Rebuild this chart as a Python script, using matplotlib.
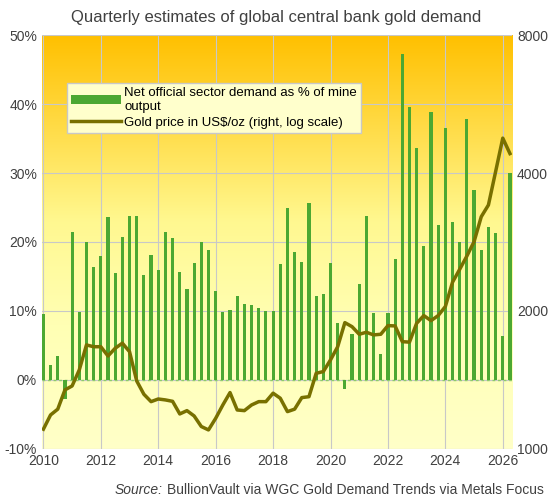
import numpy as np
import matplotlib
matplotlib.use("Agg")
import matplotlib.pyplot as plt
from matplotlib.colors import LinearSegmentedColormap
from matplotlib.ticker import FixedLocator, NullLocator

plt.rcParams["font.family"] = ["Liberation Sans", "DejaVu Sans"]

# quarterly, 2010 Q1 .. 2026 Q2
demand_pct = [9.6, 2.2, 3.4, -2.8, 21.5, 9.8, 20.0, 16.4, 18.0, 23.6, 15.5, 20.7,
              23.7, 23.7, 15.2, 18.1, 16.0, 21.4, 20.6, 15.7, 13.2, 17.0, 20.0, 18.9,
              12.9, 9.8, 10.1, 12.1, 11.0, 10.8, 10.4, 10.0, 10.0, 16.8, 24.9, 18.5,
              17.1, 25.6, 12.1, 12.4, 17.0, 8.2, -1.3, 6.7, 13.9, 23.8, 9.7, 3.7,
              9.7, 17.5, 47.2, 39.6, 33.6, 19.4, 38.8, 22.4, 36.5, 22.9, 20.0, 37.8,
              27.5, 18.9, 22.2, 21.3, 6.4, 30.0]
gold_price = [1104, 1186, 1221, 1345, 1372, 1487, 1686, 1671, 1671, 1595, 1658, 1701,
              1630, 1407, 1316, 1268, 1285, 1279, 1270, 1192, 1212, 1180, 1119, 1100,
              1166, 1247, 1327, 1216, 1212, 1247, 1268, 1268, 1323, 1290, 1206, 1221,
              1294, 1300, 1462, 1475, 1564, 1671, 1886, 1848, 1779, 1797, 1773, 1779,
              1858, 1855, 1714, 1710, 1880, 1954, 1905, 1954, 2045, 2311, 2466, 2636,
              2833, 3211, 3406, 4027, 4766, 4410]
x = 2010 + np.arange(len(demand_pct)) * 0.25

fig = plt.figure(figsize=(5.52, 5.01), dpi=100)
ax = fig.add_axes([0.076, 0.104, 0.852, 0.826])

# background gradient
cmap = LinearSegmentedColormap.from_list(
    "bg", [(0, "#FFFFC8"), (0.3, "#FFFFB4"), (0.55, "#FFF890"), (1, "#FFC000")])
grad = np.linspace(0, 1, 256).reshape(-1, 1)
ax.imshow(grad, aspect="auto", cmap=cmap, origin="lower", extent=[0, 1, 0, 1],
          transform=ax.transAxes, zorder=0)

ax.bar(x, demand_pct, width=0.11, color="#4CA832", zorder=3,
       label="Net official sector demand as % of mine\noutput")
ax.axhline(0, color="#8CCB6A", linestyle=(0, (2, 2)), linewidth=1, zorder=2)
ax.set_xlim(2009.95, 2026.33)
ax.set_ylim(-10, 50)
ax.set_yticks(range(-10, 51, 10))
ax.set_yticklabels([f"{v}%" for v in range(-10, 51, 10)])
ax.set_xticks(range(2010, 2027, 2))
ax.grid(True, color="#C8C8C8", linewidth=0.8, zorder=1)
ax.set_axisbelow(True)
for s in ax.spines.values():
    s.set_visible(False)
ax.tick_params(length=0, labelsize=10, colors="#404040")

ax2 = ax.twinx()
ax2.plot(x, gold_price, color="#787000", linewidth=2.5, zorder=4,
         label="Gold price in US$/oz (right, log scale)")
ax2.set_yscale("log")
ax2.set_ylim(1000, 8000)
ax2.yaxis.set_major_locator(FixedLocator([1000, 2000, 4000, 8000]))
ax2.yaxis.set_minor_locator(NullLocator())
ax2.set_yticklabels(["1000", "2000", "4000", "8000"])
for s in ax2.spines.values():
    s.set_visible(False)
ax2.tick_params(length=0, labelsize=10, colors="#404040")

h1, l1 = ax.get_legend_handles_labels()
h2, l2 = ax2.get_legend_handles_labels()
leg = ax2.legend(h1 + h2, l1 + l2, loc="upper left", bbox_to_anchor=(0.04, 0.9),
                 fontsize=9.5, frameon=True, fancybox=False, facecolor="#FFFFCC",
                 edgecolor="#C8C8C8", framealpha=1, handlelength=3.8,
                 handletextpad=0.2, borderpad=0.3, labelspacing=0.3)
leg.set_zorder(10)

fig.text(0.5, 0.965, "Quarterly estimates of global central bank gold demand",
         ha="center", va="center", fontsize=12, color="#404040")
src = fig.text(0.985, 0.022, "BullionVault via WGC Gold Demand Trends via Metals Focus",
               ha="right", va="center", fontsize=10, color="#404040")
fig.canvas.draw()
bb = src.get_window_extent().transformed(fig.transFigure.inverted())
fig.text(bb.x0 - 0.008, 0.022, "Source:", ha="right", va="center", fontsize=10,
         color="#404040", style="italic")

fig.savefig("out.png", dpi=100)
